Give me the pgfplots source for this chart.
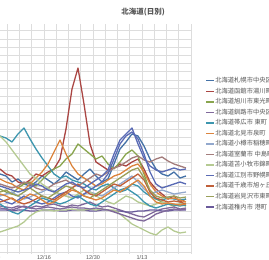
\documentclass[border=0pt]{standalone}
\usepackage{fontspec}
\setmainfont{Liberation Sans}
\newfontfamily\cjk{Noto Sans CJK JP}
\usepackage{pgfplots}
\usepackage{pgfplotstable}
\pgfplotsset{compat=1.18}
\definecolor{hc1}{HTML}{4572A7}
\definecolor{hc2}{HTML}{AA4643}
\definecolor{hc3}{HTML}{89A54E}
\definecolor{hc4}{HTML}{80699B}
\definecolor{hc5}{HTML}{3D96AE}
\definecolor{hc6}{HTML}{DB843D}
\definecolor{hc7}{HTML}{92A8CD}
\definecolor{hc8}{HTML}{A47D7C}
\definecolor{hc9}{HTML}{B5CA92}
\definecolor{hc10}{HTML}{5A6BB5}
\definecolor{hc11}{HTML}{C0603A}
\definecolor{hc12}{HTML}{9AA05A}
\definecolor{hc13}{HTML}{6A5A9B}
\definecolor{gridc}{HTML}{DDDDDD}
\definecolor{txt}{HTML}{555555}
\pgfplotstableread{
x s1 s2 s3 s4 s5 s6 s7 s8 s9 s10 s11 s12 s13 e1 e2 e3 e4 e5
0 80 85 65 48 118 75 58 70 118 55 52 62 44 22 50 60 68 46
6 78 80 62 47 116 72 60 68 112 52 54 64 44 24 46 58 66 45
12 72 78 60 46 112 70 62 66 104 50 56 60 43 26 42 55 64 44
18 75 72 66 48 120 66 58 68 96 54 52 58 44 28 40 52 62 46
24 70 70 70 47 126 64 55 72 88 58 50 62 44 32 44 56 64 48
30 68 74 72 46 115 70 57 70 80 55 52 66 43 38 48 60 66 46
36 72 80 68 48 105 76 60 66 76 52 55 62 43 42 52 58 70 45
42 78 78 74 47 96 82 62 64 70 50 58 58 44 44 56 54 68 46
48 74 82 80 49 88 90 65 66 66 52 56 56 44 44 54 50 64 47
54 70 85 85 50 80 102 63 70 62 56 54 60 44 43 52 52 62 46
60 75 95 88 48 76 114 60 72 60 60 58 64 43 44 50 56 66 45
66 82 125 95 47 78 100 58 74 58 62 62 68 43 44 52 60 70 46
72 78 165 100 49 74 88 56 70 56 58 66 66 44 45 55 64 72 47
78 74 186 110 48 72 80 58 68 60 56 70 62 44 44 58 62 68 46
84 80 150 105 50 70 76 60 72 64 60 64 58 44 44 54 58 66 46
90 85 110 100 52 66 72 62 76 62 64 60 56 43 45 50 56 70 45
96 78 92 95 49 64 68 60 80 58 68 58 60 43 44 48 54 74 46
102 72 88 98 47 68 70 58 78 55 72 62 64 44 45 52 56 78 45
108 75 84 90 48 70 74 62 82 52 80 66 68 44 44 56 60 84 44
114 90 86 85 46 66 78 66 86 50 95 70 72 43 44 60 64 100 42
120 105 90 92 44 62 80 70 88 54 110 68 76 43 40 64 62 114 40
126 112 88 100 42 64 84 74 92 58 118 72 80 42 35 66 66 120 38
132 120 92 104 40 70 88 78 96 56 122 76 84 42 30 62 70 126 36
138 118 95 98 38 68 90 72 98 52 115 80 86 43 27 58 74 110 34
144 108 85 80 37 62 82 65 94 50 100 74 76 43 24 52 68 96 33
150 95 72 62 40 58 70 60 92 48 82 62 64 44 21 48 58 88 36
156 85 65 55 43 55 62 62 95 50 70 56 58 44 19 46 52 84 40
162 80 60 52 45 54 58 64 97 52 66 54 56 43 24 48 50 82 42
168 78 55 50 46 56 55 62 93 50 68 52 57 43 27 50 51 84 44
174 82 58 48 47 55 56 60 90 49 70 53 58 44 23 49 50 86 45
180 76 52 50 45 54 54 61 88 50 72 52 56 44 21 48 49 84 44
186 78 55 48 46 55 52 62 86 51 70 50 57 44 22 49 50 85 45
}\datatable
\begin{document}
\begin{tikzpicture}
\begin{axis}[
  x=1pt, y=1pt,
  at={(0pt,6pt)}, anchor=origin,
  xmin=-12, xmax=192, ymin=0, ymax=230,
  axis line style={draw=none},
  major tick length=0pt,
  xtick={-5,7.25,...,192},
  xticklabels={9/30,,,,12/16,,,,12/30,,,,1/13,,,},
  ytick={2,10.2,...,230},
  yticklabels={},
  grid=major,
  major grid style={gridc, line width=0.5pt},
  xticklabel style={font=\fontsize{5.5}{6}\selectfont, text=txt, yshift=2pt},
  title={\cjk 北海道(日別)},
  title style={at={(axis description cs:0.76,1.025)}, anchor=center, font=\fontsize{7.5}{8}\selectfont\bfseries, text=txt},
  every axis plot/.append style={line width=1.3pt, line join=round},
  legend style={at={(axis description cs:1.05,0.78)}, anchor=north west, draw=none, fill=none,
    font=\fontsize{6.3}{7}\selectfont\cjk, text=txt, row sep=2.5pt,
    nodes={inner sep=0.6pt}},
  legend cell align=left,
  legend image code/.code={\draw[#1, line width=1.3pt] (0pt,0pt) -- (8pt,0pt);},
]
\addplot[hc1] table[x=x,y=s1]{\datatable};
\addplot[hc2] table[x=x,y=s2]{\datatable};
\addplot[hc3] table[x=x,y=s3]{\datatable};
\addplot[hc4] table[x=x,y=s4]{\datatable};
\addplot[hc5] table[x=x,y=s5]{\datatable};
\addplot[hc6] table[x=x,y=s6]{\datatable};
\addplot[hc7] table[x=x,y=s7]{\datatable};
\addplot[hc8] table[x=x,y=s8]{\datatable};
\addplot[hc9] table[x=x,y=s9]{\datatable};
\addplot[hc10] table[x=x,y=s10]{\datatable};
\addplot[hc11] table[x=x,y=s11]{\datatable};
\addplot[hc12] table[x=x,y=s12]{\datatable};
\addplot[hc13] table[x=x,y=s13]{\datatable};
\addplot[hc9, forget plot] table[x=x,y=e1]{\datatable};
\addplot[hc5, forget plot] table[x=x,y=e2]{\datatable};
\addplot[hc6, forget plot] table[x=x,y=e3]{\datatable};
\addplot[hc10, forget plot] table[x=x,y=e4]{\datatable};
\addplot[hc4, forget plot] table[x=x,y=e5]{\datatable};
\legend{北海道札幌市中央区,北海道函館市湯川町,北海道旭川市東光町,北海道釧路市中央区,北海道帯広市\ 東町,北海道北見市泉町,北海道小樽市稲穂町,北海道室蘭市\ 中島町,北海道苫小牧市錦町,北海道江別市野幌町,北海道千歳市旭ヶ丘,北海道岩見沢市東町,北海道稚内市\ 港町}
\end{axis}
\pgfresetboundingbox
\path[use as bounding box] (0pt,0pt) rectangle (269pt,260pt);
\end{tikzpicture}
\end{document}
